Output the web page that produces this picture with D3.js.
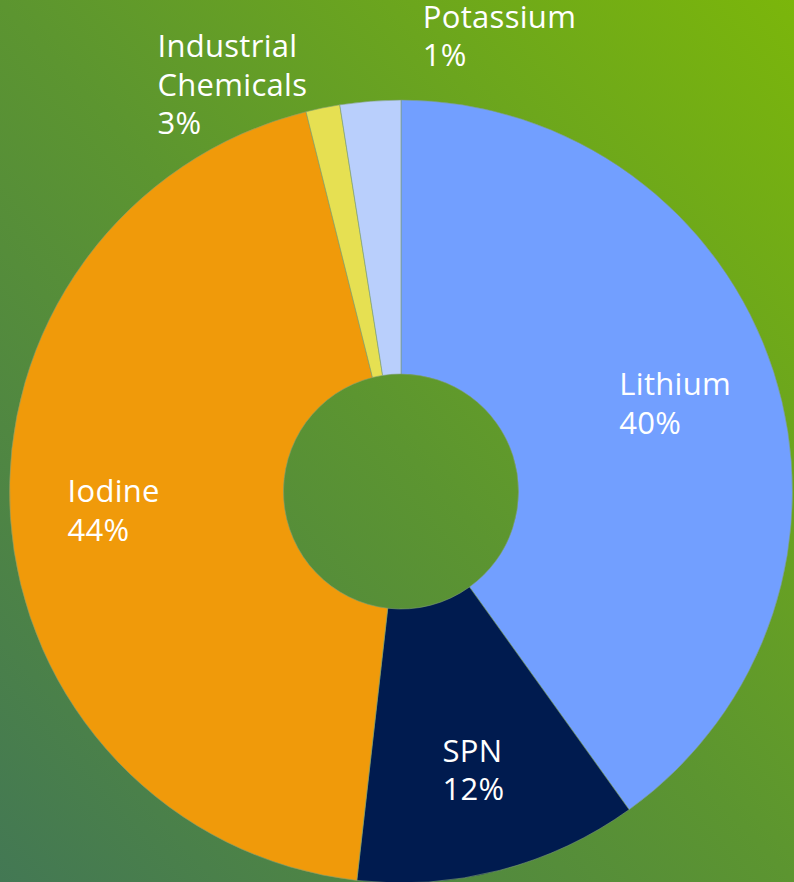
<!DOCTYPE html>
<html><head><meta charset="utf-8">
<script src="https://cdn.jsdelivr.net/npm/d3@7"></script>
<style>html,body{margin:0;padding:0;overflow:hidden;background:#5c9530} svg{display:block}</style>
</head><body><svg id="c" width="794" height="882"></svg>
<script>
// ---- data ----
const categories = ["Lithium", "SPN", "Iodine", "Potassium", "Industrial Chemicals"];
const values = [40.1, 11.7, 44.3, 1.4, 2.5];
const percentLabels = ["40%", "12%", "44%", "1%", "3%"];
const labelLines = [["Lithium"], ["SPN"], ["Iodine"], ["Potassium"], ["Industrial", "Chemicals"]];
const colors = ["#729fff", "#001b4f", "#f09a0a", "#e6e052", "#b9cffc"];

// ---- layout ----
const W = 794, H = 882;
const cx = 401, cy = 491.5, R = 391.5, r0 = 117.5;
const fontSize = 31, lineH = 38.5, capH = 22;
const font = "'Open Sans', 'Noto Sans', sans-serif";
const outside = {
  "Potassium": {dx: 100, dy: -80},
  "Industrial Chemicals": {dx: -63, dy: -44, alignRight: true}
};

const svg = d3.select("#c");
const defs = svg.append("defs");
const grad = defs.append("linearGradient").attr("id", "bg")
  .attr("x1", 0).attr("y1", 1).attr("x2", 1).attr("y2", 0);
grad.append("stop").attr("offset", 0).attr("stop-color", "#437854");
grad.append("stop").attr("offset", 0.5).attr("stop-color", "#5c9530");
grad.append("stop").attr("offset", 1).attr("stop-color", "#7bb60b");
svg.append("rect").attr("width", W).attr("height", H).attr("fill", "url(#bg)");

const data = categories.map((c, i) => ({name: c, value: values[i], pct: percentLabels[i], lines: labelLines[i], color: colors[i]}));
const pie = d3.pie().value(d => d.value).sort(null);
const arcs = pie(data);
const arc = d3.arc().innerRadius(r0).outerRadius(R);

const g = svg.append("g").attr("transform", `translate(${cx},${cy})`);
g.selectAll("path").data(arcs).join("path")
  .attr("d", arc)
  .attr("fill", d => d.data.color)
  .attr("stroke", "#7f9f73").attr("stroke-width", 0.6);

const labelArc = d3.arc().innerRadius(288).outerRadius(288);
const outerArc = d3.arc().innerRadius(R).outerRadius(R);

arcs.forEach(a => {
  const lines = a.data.lines.concat([a.data.pct]);
  const t = g.append("text")
    .attr("fill", "#ffffff")
    .attr("font-family", font)
    .attr("font-size", fontSize)
    .attr("letter-spacing", 0.3);
  const tsp = lines.map(l => t.append("tspan").text(l));
  const w = d3.max(tsp, s => s.node().getComputedTextLength());
  let x, y0;
  const o = outside[a.data.name];
  if (o) {
    const [px, py] = outerArc.centroid(a);
    x = o.alignRight ? px + o.dx - w : px + o.dx;
    y0 = py + o.dy;
  } else {
    const [px, py] = labelArc.centroid(a);
    x = px - w / 2;
    y0 = py - ((lines.length - 1) * lineH) / 2 + capH / 2;
  }
  tsp.forEach((s, i) => s.attr("x", x).attr("y", y0 + i * lineH));
});
</script>
</body></html>
